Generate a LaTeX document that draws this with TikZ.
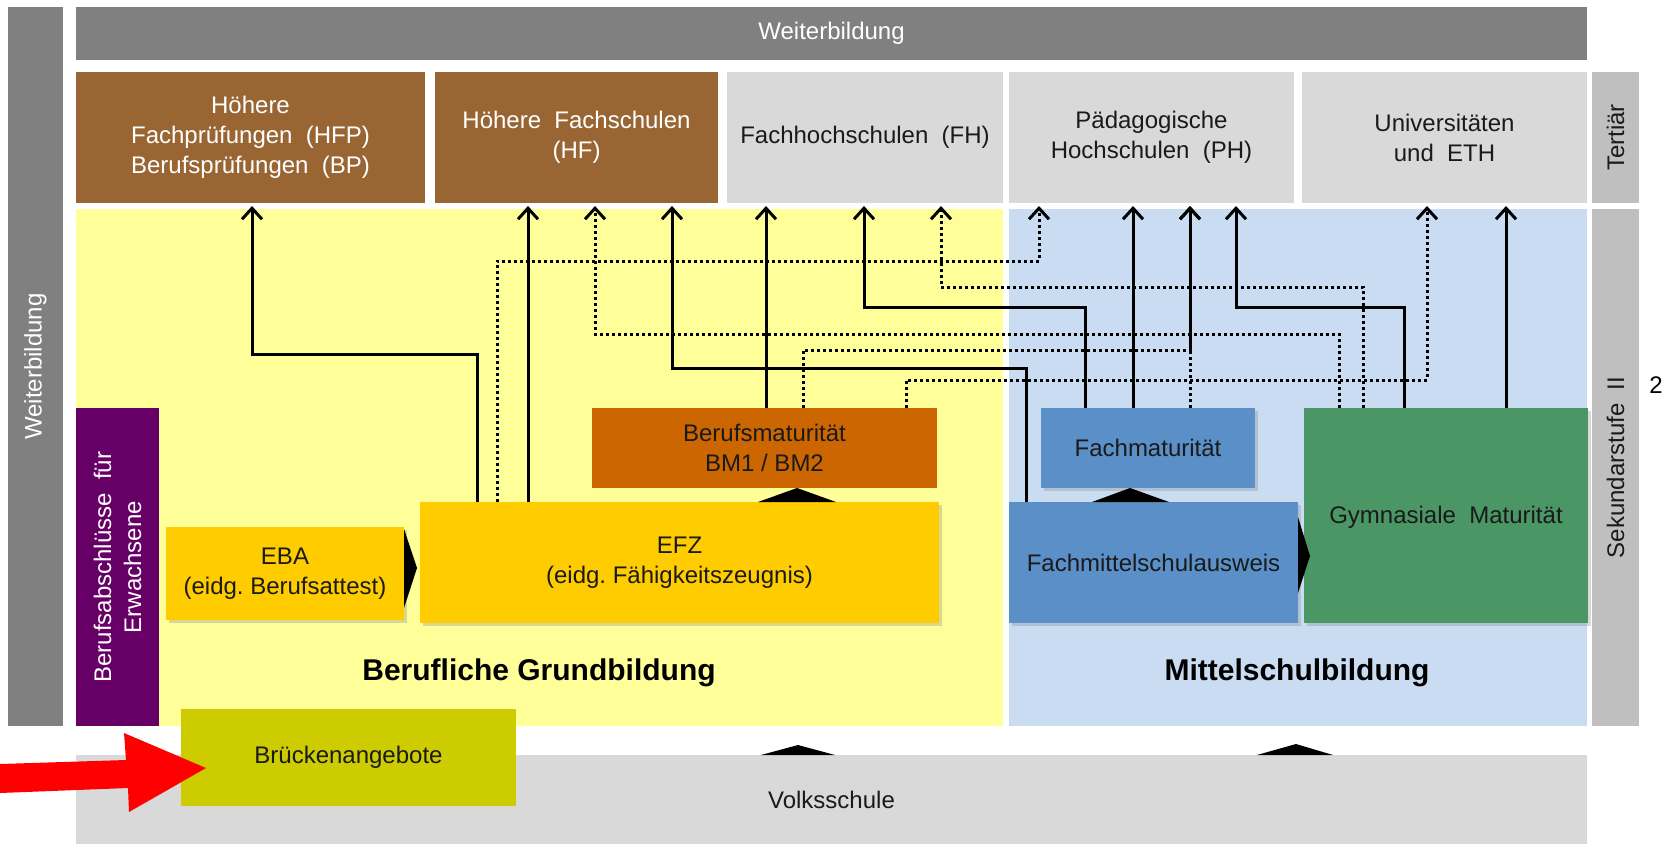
\documentclass[tikz,border=0pt]{standalone}
\usepackage{fontspec}
\setmainfont{Liberation Sans}
\usetikzlibrary{arrows.meta,shadows}
\definecolor{cGrayD}{HTML}{808080}
\definecolor{cGrayL}{HTML}{D9D9D9}
\definecolor{cGrayM}{HTML}{BFBFBF}
\definecolor{cBrown}{HTML}{996633}
\definecolor{cYelBg}{HTML}{FFFF99}
\definecolor{cBlueBg}{HTML}{CADCF2}
\definecolor{cPurple}{HTML}{660066}
\definecolor{cGold}{HTML}{FFCC00}
\definecolor{cOrange}{HTML}{CC6600}
\definecolor{cBlue}{HTML}{5B8FC8}
\definecolor{cGreen}{HTML}{4A9665}
\definecolor{cOlive}{HTML}{CCCC00}
\definecolor{cText}{HTML}{1A1A1A}
\begin{document}
\begin{tikzpicture}[x=1pt,y=-1pt,
  box/.style={rectangle,inner sep=0pt,outer sep=0pt,anchor=north west,align=center,
    font=\fontsize{24}{30}\selectfont,text=cText},
  rbox/.style={box,anchor=center,rotate=90},
  shad/.style={drop shadow={opacity=0.3,shadow xshift=3pt,shadow yshift=-3pt}},
  lbl/.style={font=\fontsize{30}{36}\selectfont\bfseries,text=black,inner sep=0pt},
  sarrow/.style={line width=3pt,-{Straight Barb[length=11pt,width=20pt]},shorten >=3pt},
  darrow/.style={sarrow,dash pattern=on 3pt off 3pt},
  tri/.style={fill=black}
]
\useasboundingbox (0,0) rectangle (1668,844);

% background regions
\node[box,fill=cYelBg,minimum width=927pt,minimum height=517pt] (ygb) at (76,209) {};
\node[box,fill=cBlueBg,minimum width=578pt,minimum height=517pt] (bgb) at (1009,209) {};

% side bars
\node[rbox,fill=cGrayD,text=white,minimum width=719pt,minimum height=55pt] (wbl) at (35.5,366.5) {Weiterbildung};
\node[rbox,fill=cGrayM,minimum width=131pt,minimum height=47pt] (tert) at (1615.5,137.5) {Terti\"ar};
\node[rbox,fill=cGrayM,minimum width=517pt,minimum height=47pt] (sek) at (1615.5,467.5) {Sekundarstufe\ \ II};

% top
\node[box,fill=cGrayD,text=white,minimum width=1511pt,minimum height=53pt] (wbt) at (76,7) {Weiterbildung};
\node[box,fill=cBrown,text=white,minimum width=349pt,minimum height=131pt] (hfp) at (76,72) {H\"ohere\\Fachpr\"ufungen\ \ (HFP)\\Berufspr\"ufungen\ \ (BP)};
\node[box,fill=cBrown,text=white,minimum width=283pt,minimum height=131pt] (hf) at (435,72) {H\"ohere\ \ Fachschulen\\(HF)};
\node[box,fill=cGrayL,minimum width=276pt,minimum height=131pt] (fh) at (727,72) {Fachhochschulen\ \ (FH)};
\node[box,fill=cGrayL,minimum width=285pt,minimum height=131pt] (ph) at (1009,72) {P\"adagogische\\Hochschulen\ \ (PH)};
\node[box,fill=cGrayL,minimum width=285pt,minimum height=131pt] (uni) at (1302,72) {Universit\"aten\\und\ \ ETH};

% secondary boxes
\node[rbox,fill=cPurple,text=white,minimum width=318pt,minimum height=83pt] (erw) at (117.5,567) {Berufsabschl\"usse\ \ f\"ur\\Erwachsene};
\node[box,shad,fill=cGold,minimum width=238pt,minimum height=93pt] (eba) at (166,527) {EBA\\(eidg.\ Berufsattest)};
\node[box,shad,fill=cGold,minimum width=519pt,minimum height=121pt] (efz) at (420,502) {EFZ\\(eidg.\ F\"ahigkeitszeugnis)};
\node[box,fill=cOrange,minimum width=345pt,minimum height=80pt] (bm) at (592,408) {Berufsmaturit\"at\\BM1 / BM2};
\node[box,shad,fill=cBlue,minimum width=289pt,minimum height=121pt] (fms) at (1009,502) {Fachmittelschulausweis};
\node[box,shad,fill=cBlue,minimum width=214pt,minimum height=80pt] (fmat) at (1041,408) {Fachmaturit\"at};
\node[box,shad,fill=cGreen,minimum width=284pt,minimum height=215pt] (gym) at (1304,408) {};
\node[box,anchor=center] (gymt) at (1446,517) {Gymnasiale\ \ Maturit\"at};

\node[lbl] (bgl) at (539,673) {Berufliche Grundbildung};
\node[lbl] (msl) at (1297,673) {Mittelschulbildung};

% bottom
\node[box,fill=cGrayL,minimum width=1511pt,minimum height=89pt] (volks) at (76,755) {Volksschule};
\node[box,fill=cOlive,minimum width=335pt,minimum height=97pt] (bruck) at (181,709) {Br\"uckenangebote};
\node[box,anchor=center,text=black] (two) at (1656,385) {2};

% triangles
\fill[tri] (404,529) -- (417,568) -- (404,608) -- cycle;
\fill[tri] (758,502) -- (797,488) -- (836,502) -- cycle;
\fill[tri] (1092,502) -- (1130,488) -- (1169,502) -- cycle;
\fill[tri] (1298,517) -- (1310,556) -- (1298,593) -- cycle;
\fill[tri] (761,755) -- (798,745) -- (835,755) -- cycle;
\fill[tri] (1257,755) -- (1296,744) -- (1333,755) -- cycle;

% red arrow
\fill[red] (0,764) -- (126,760) -- (124,733) -- (206,768) -- (129,812) -- (128,788) -- (0,793) -- cycle;

% solid connectors
\draw[sarrow] ([xshift=57pt]efz.north west) |- (252,354) -- ([xshift=176pt]hfp.south west);
\draw[sarrow] ([xshift=108pt]efz.north west) -- ([xshift=93pt]hf.south west);
\draw[sarrow] ([xshift=17pt]fms.north west) |- (672,368) -- ([xshift=237pt]hf.south west);
\draw[sarrow] ([xshift=174pt]bm.north west) -- ([xshift=39pt]fh.south west);
\draw[sarrow] ([xshift=44pt]fmat.north west) |- (864,307) -- ([xshift=137pt]fh.south west);
\draw[sarrow] ([xshift=92pt]fmat.north west) -- ([xshift=124pt]ph.south west);
\draw[sarrow] ([xshift=100pt]gym.north west) |- (1236,307) -- ([xshift=227pt]ph.south west);
\draw[sarrow] ([xshift=202pt]gym.north west) -- ([xshift=204pt]uni.south west);

% dotted connectors
\draw[darrow] ([xshift=77pt]efz.north west) |- (1039,261) -- ([xshift=30pt]ph.south west);
\draw[darrow] ([xshift=35pt]gym.north west) |- (595,334) -- ([xshift=160pt]hf.south west);
\draw[darrow] ([xshift=59pt]gym.north west) |- (941,287) -- ([xshift=214pt]fh.south west);
\draw[darrow] ([xshift=211pt]bm.north west) |- (1190,350) -- ([xshift=181pt]ph.south west);
\draw[darrow] ([xshift=149pt]fmat.north west) -- ([xshift=181pt]ph.south west);
\draw[darrow] ([xshift=314pt]bm.north west) |- (1427,380) -- ([xshift=125pt]uni.south west);
\end{tikzpicture}
\end{document}
